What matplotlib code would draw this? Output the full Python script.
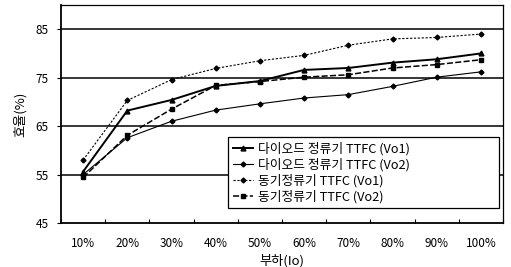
import matplotlib
matplotlib.use("Agg")
import matplotlib.pyplot as plt
import numpy as np

plt.rcParams['font.family'] = ['Noto Sans CJK KR', 'DejaVu Sans']

# 부하 (categories)
loads = ['10%', '20%', '30%', '40%', '50%', '60%', '70%', '80%', '90%', '100%']

# 효율 (%)
diode_vo1 = [55.6, 68.2, 70.4, 73.3, 74.3, 76.6, 77.0, 78.1, 78.8, 80.0]
diode_vo2 = [55.0, 62.6, 66.0, 68.3, 69.6, 70.8, 71.5, 73.2, 75.1, 76.2]
sync_vo1 = [58.0, 70.3, 74.6, 76.9, 78.5, 79.6, 81.7, 83.0, 83.3, 84.0]
sync_vo2 = [54.4, 63.1, 68.5, 73.4, 74.2, 75.1, 75.6, 77.0, 77.7, 78.7]

labels = ['다이오드 정류기 TTFC (Vo1)', '다이오드 정류기 TTFC (Vo2)',
          '동기정류기 TTFC (Vo1)', '동기정류기 TTFC (Vo2)']

x = np.arange(1, len(loads) + 1)

fig = plt.figure(figsize=(5.11, 2.67), dpi=100)
ax = fig.add_axes([61 / 511, 44 / 267, 442 / 511, 218 / 267])

# 수평 격자선
for yv in [55, 65, 75, 85]:
    ax.axhline(yv, color='black', lw=1.1, zorder=1)

ax.plot(x, diode_vo1, color='black', lw=1.4, marker='^', ms=3.5, label=labels[0], zorder=3)
ax.plot(x, diode_vo2, color='black', lw=0.8, marker='D', ms=2.5, label=labels[1], zorder=3)
ax.plot(x, sync_vo1, color='black', lw=0.8, ls=(0, (2, 1.5)), marker='D', ms=2.5, label=labels[2], zorder=3)
ax.plot(x, sync_vo2, color='black', lw=1.1, ls=(0, (4, 1.5)), marker='s', ms=3, label=labels[3], zorder=3)

ax.set_xlim(0.5, 10.5)
ax.set_ylim(45, 90)
ax.set_yticks([45, 55, 65, 75, 85])
ax.set_xticks(x)
ax.set_xticklabels(loads)
ax.set_xticks(np.arange(0.5, 11, 1), minor=True)
ax.tick_params(axis='x', which='major', length=0, pad=10, labelsize=8.5)
ax.tick_params(axis='x', which='minor', direction='in', length=3, width=0.8)
ax.tick_params(axis='y', length=3, width=0.8, pad=6, labelsize=8.5)

for s in ax.spines.values():
    s.set_color('black')
    s.set_linewidth(0.9)
ax.spines['left'].set_linewidth(1.3)
ax.spines['bottom'].set_linewidth(1.3)

ax.set_ylabel('효율(%)', fontsize=9.5, labelpad=6)
ax.set_xlabel('부하(Io)', fontsize=9.5, labelpad=3)

leg = ax.legend(loc='lower left', bbox_to_anchor=(0.378, 0.069, 0.614, 0.33), mode='expand',
                fontsize=9.2, frameon=True, fancybox=False, edgecolor='black', framealpha=1,
                handlelength=1.6, handletextpad=0.4, borderpad=0.35, labelspacing=0.2,
                borderaxespad=0.0)
leg.get_frame().set_linewidth(0.9)

fig.savefig('out.png', dpi=100)
